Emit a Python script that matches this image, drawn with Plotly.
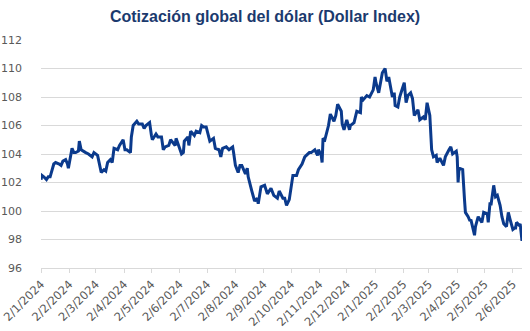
import plotly.graph_objects as go

# Dollar Index (DXY) closing levels, d/m/Y axis labels
fechas = [
    "2024-01-02", "2024-01-03", "2024-01-05", "2024-01-08", "2024-01-10", "2024-01-12",
    "2024-01-16", "2024-01-18", "2024-01-22", "2024-01-24", "2024-01-26", "2024-01-29",
    "2024-01-31", "2024-02-01", "2024-02-05", "2024-02-07", "2024-02-09", "2024-02-12",
    "2024-02-13", "2024-02-15", "2024-02-20", "2024-02-23", "2024-02-27", "2024-02-29",
    "2024-03-04", "2024-03-06", "2024-03-08", "2024-03-11", "2024-03-13", "2024-03-15",
    "2024-03-18", "2024-03-20", "2024-03-22", "2024-03-26", "2024-03-28", "2024-04-01",
    "2024-04-03", "2024-04-05", "2024-04-09", "2024-04-10", "2024-04-12", "2024-04-16",
    "2024-04-18", "2024-04-22", "2024-04-24", "2024-04-26", "2024-04-30", "2024-05-02",
    "2024-05-03", "2024-05-07", "2024-05-09", "2024-05-13", "2024-05-15", "2024-05-17",
    "2024-05-21", "2024-05-23", "2024-05-28", "2024-05-29", "2024-05-31", "2024-06-04",
    "2024-06-06", "2024-06-07", "2024-06-11", "2024-06-12", "2024-06-14", "2024-06-18",
    "2024-06-20", "2024-06-24", "2024-06-26", "2024-06-28", "2024-07-01", "2024-07-03",
    "2024-07-05", "2024-07-09", "2024-07-11", "2024-07-15", "2024-07-17", "2024-07-19",
    "2024-07-23", "2024-07-26", "2024-07-30", "2024-07-31", "2024-08-02", "2024-08-05",
    "2024-08-07", "2024-08-09", "2024-08-13", "2024-08-15", "2024-08-16", "2024-08-20",
    "2024-08-23", "2024-08-26", "2024-08-27", "2024-08-30", "2024-09-03", "2024-09-06",
    "2024-09-10", "2024-09-13", "2024-09-17", "2024-09-19", "2024-09-23", "2024-09-25",
    "2024-09-27", "2024-09-30", "2024-10-02", "2024-10-04", "2024-10-08", "2024-10-10",
    "2024-10-14", "2024-10-17", "2024-10-22", "2024-10-24", "2024-10-28", "2024-10-31",
    "2024-11-01", "2024-11-04", "2024-11-05", "2024-11-06", "2024-11-08", "2024-11-12",
    "2024-11-14", "2024-11-18", "2024-11-20", "2024-11-22", "2024-11-26", "2024-11-27",
    "2024-11-29", "2024-12-02", "2024-12-05", "2024-12-06", "2024-12-10", "2024-12-13",
    "2024-12-17", "2024-12-18", "2024-12-20", "2024-12-24", "2024-12-27", "2024-12-31",
    "2025-01-02", "2025-01-03", "2025-01-06", "2025-01-08", "2025-01-10", "2025-01-13",
    "2025-01-15", "2025-01-17", "2025-01-21", "2025-01-23", "2025-01-24", "2025-01-27",
    "2025-01-29", "2025-01-31", "2025-02-03", "2025-02-05", "2025-02-07", "2025-02-10",
    "2025-02-12", "2025-02-14", "2025-02-18", "2025-02-20", "2025-02-24", "2025-02-26",
    "2025-02-28", "2025-03-03", "2025-03-04", "2025-03-05", "2025-03-07", "2025-03-10",
    "2025-03-11", "2025-03-14", "2025-03-18", "2025-03-20", "2025-03-24", "2025-03-26",
    "2025-03-28", "2025-03-31", "2025-04-01", "2025-04-02", "2025-04-03", "2025-04-04",
    "2025-04-08", "2025-04-10", "2025-04-11", "2025-04-14", "2025-04-16", "2025-04-17",
    "2025-04-21", "2025-04-22", "2025-04-24", "2025-04-25", "2025-04-29", "2025-05-01",
    "2025-05-05", "2025-05-06", "2025-05-08", "2025-05-09", "2025-05-12", "2025-05-14",
    "2025-05-16", "2025-05-19", "2025-05-21", "2025-05-23", "2025-05-26", "2025-05-28",
    "2025-05-30", "2025-06-02", "2025-06-04", "2025-06-05", "2025-06-06", "2025-06-09",
    "2025-06-10", "2025-06-11", "2025-06-12",
]

dxy = [
    102.2, 102.5, 102.4, 102.2, 102.4, 102.4,
    103.3, 103.4, 103.3, 103.2, 103.5, 103.6,
    103.3, 103.0, 104.4, 104.1, 104.1, 104.2,
    104.9, 104.3, 104.1, 104.0, 103.8, 104.1,
    103.9, 103.4, 102.7, 102.9, 102.8, 103.4,
    103.6, 103.4, 104.4, 104.3, 104.6, 105.0,
    104.3, 104.3, 104.1, 105.2, 106.0, 106.3,
    106.1, 106.1, 105.8, 106.0, 106.2, 105.3,
    105.0, 105.4, 105.2, 105.2, 104.3, 104.5,
    104.6, 105.0, 104.6, 105.1, 104.7, 104.0,
    104.1, 104.9, 105.2, 104.6, 105.6, 105.3,
    105.6, 105.5, 106.0, 105.9, 105.9, 105.4,
    104.9, 105.1, 104.4, 104.3, 103.8, 104.4,
    104.5, 104.3, 104.5, 104.1, 103.2, 102.7,
    103.2, 103.2, 102.6, 103.0, 102.4, 101.4,
    100.7, 100.9, 100.5, 101.7, 101.8, 101.2,
    101.6, 101.1, 100.9, 101.4, 100.9, 100.9,
    100.4, 100.8, 101.7, 102.5, 102.5, 102.9,
    103.3, 103.8, 104.1, 104.1, 104.3, 103.9,
    104.3, 103.9, 103.4, 105.1, 105.0, 106.0,
    106.8, 106.3, 106.7, 107.5, 107.0, 106.1,
    105.7, 106.4, 105.7, 106.0, 106.2, 107.0,
    106.9, 108.0, 107.8, 108.1, 108.0, 108.5,
    109.4, 109.0, 108.3, 109.1, 109.7, 110.0,
    109.1, 109.4, 108.0, 108.3, 107.4, 107.3,
    108.0, 108.4, 109.0, 107.6, 108.1, 108.3,
    107.9, 106.7, 107.1, 106.4, 106.6, 106.4,
    107.6, 106.7, 105.7, 104.3, 103.8, 103.9,
    103.4, 103.7, 103.2, 103.8, 104.3, 104.5,
    104.0, 104.2, 104.2, 103.8, 102.0, 103.0,
    102.9, 100.8, 99.9, 99.6, 99.3, 99.4,
    98.3, 98.9, 99.3, 99.6, 99.2, 99.9,
    99.8, 99.2, 100.6, 100.4, 101.8, 101.0,
    101.1, 100.4, 99.6, 99.1, 98.9, 99.9,
    99.4, 98.7, 98.8, 98.8, 99.2, 99.0,
    99.1, 98.6, 97.9,
]

tick_fechas = [
    "2024-01-02", "2024-02-02", "2024-03-02", "2024-04-02", "2024-05-02", "2024-06-02",
    "2024-07-02", "2024-08-02", "2024-09-02", "2024-10-02", "2024-11-02", "2024-12-02",
    "2025-01-02", "2025-02-02", "2025-03-02", "2025-04-02", "2025-05-02", "2025-06-02",
]
tick_textos = [
    "2/1/2024", "2/2/2024", "2/3/2024", "2/4/2024", "2/5/2024", "2/6/2024",
    "2/7/2024", "2/8/2024", "2/9/2024", "2/10/2024", "2/11/2024", "2/12/2024",
    "2/1/2025", "2/2/2025", "2/3/2025", "2/4/2025", "2/5/2025", "2/6/2025",
]
y_ticks = [96, 98, 100, 102, 104, 106, 108, 110, 112]

fig = go.Figure(
    go.Scatter(
        x=fechas, y=dxy, mode="lines",
        line=dict(color="#0B3A8C", width=3),
        hoverinfo="skip",
    )
)

fig.update_layout(
    width=530, height=331,
    margin=dict(l=41, r=8, t=40, b=63),
    paper_bgcolor="white", plot_bgcolor="white",
    showlegend=False,
    title=dict(
        text="<b>Cotización global del dólar (Dollar Index)</b>",
        x=0.5, xanchor="center", y=1 - 16 / 331, yanchor="middle",
        font=dict(family="Liberation Sans, Arial", size=16, color="#1B3A6E"),
    ),
)

fig.update_xaxes(
    type="date",
    range=[fechas[0], fechas[-1]],
    tickvals=tick_fechas, ticktext=tick_textos,
    tickangle=-45,
    tickfont=dict(family="DejaVu Sans", size=11.5, color="#595959"),
    showgrid=False,
    showline=True, linecolor="#d9d9d9", linewidth=1,
    ticks="outside", ticklen=4, tickcolor="#d9d9d9",
    ticklabelstandoff=0,
    automargin=False,
    zeroline=False,
)

fig.update_yaxes(
    range=[96, 112],
    tickvals=y_ticks,
    tickfont=dict(family="DejaVu Sans", size=11, color="#595959"),
    showgrid=True, gridcolor="#d9d9d9", gridwidth=1,
    showline=False, zeroline=False,
    ticks="", ticklabelstandoff=18,
    automargin=False,
)

fig.write_html("out.html")
